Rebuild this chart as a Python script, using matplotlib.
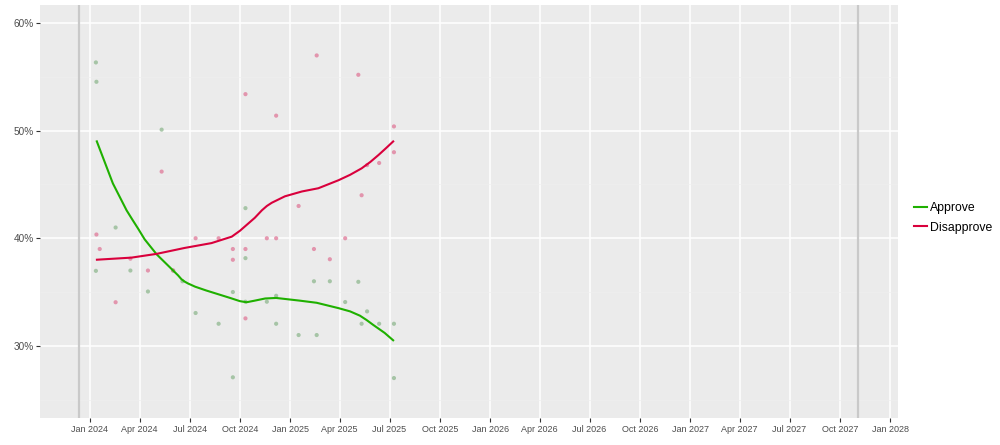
import matplotlib
matplotlib.use("Agg")
import matplotlib.pyplot as plt
import matplotlib.dates as mdates
from matplotlib.ticker import FuncFormatter, MultipleLocator
from matplotlib.lines import Line2D
import pandas as pd

# ---- data ----
approve_dates = ["2024-01-12", "2024-01-13", "2024-01-12", "2024-02-17", "2024-03-15",
                 "2024-04-16", "2024-05-11", "2024-06-01", "2024-06-18", "2024-07-12",
                 "2024-08-23", "2024-09-18", "2024-09-18", "2024-10-11", "2024-10-11",
                 "2024-10-11", "2024-11-19", "2024-12-06", "2024-12-06", "2025-01-16",
                 "2025-02-13", "2025-02-18", "2025-03-14", "2025-04-11", "2025-05-05",
                 "2025-05-11", "2025-05-21", "2025-06-12", "2025-07-09", "2025-07-09"]
approve_vals = [56.35, 54.55, 36.97, 41.0, 37.0,
                35.05, 50.1, 37.0, 36.0, 33.05,
                32.05, 35.0, 27.07, 42.8, 38.15,
                34.1, 34.1, 34.65, 32.05, 31.0,
                36.0, 31.0, 36.0, 34.07, 35.95,
                32.05, 33.2, 32.05, 32.05, 27.0]

disapprove_dates = ["2024-01-13", "2024-01-19", "2024-02-17", "2024-03-15", "2024-04-16",
                    "2024-05-11", "2024-06-01", "2024-07-12", "2024-08-23", "2024-09-18",
                    "2024-09-18", "2024-10-11", "2024-10-11", "2024-10-11", "2024-11-19",
                    "2024-12-06", "2024-12-06", "2025-01-16", "2025-02-13", "2025-02-18",
                    "2025-03-14", "2025-04-11", "2025-05-05", "2025-05-11", "2025-05-21",
                    "2025-06-12", "2025-07-09", "2025-07-09"]
disapprove_vals = [40.35, 39.0, 34.05, 38.1, 37.0,
                   46.2, 37.0, 40.0, 40.0, 39.0,
                   38.0, 53.4, 39.0, 32.55, 40.0,
                   51.4, 40.0, 43.0, 39.0, 57.0,
                   38.05, 40.0, 55.2, 44.0, 46.8,
                   47.0, 50.4, 48.0]

approve_trend_dates = ["2024-01-13", "2024-01-28", "2024-02-12", "2024-02-25", "2024-03-08",
                       "2024-03-19", "2024-03-29", "2024-04-10", "2024-05-02", "2024-05-30",
                       "2024-06-10", "2024-06-16", "2024-06-22", "2024-06-28", "2024-07-11",
                       "2024-07-31", "2024-08-22",
                       "2024-09-13", "2024-10-01", "2024-10-13", "2024-10-28", "2024-11-16",
                       "2024-12-06", "2025-01-18", "2025-02-18", "2025-03-30", "2025-04-20",
                       "2025-05-08", "2025-05-20", "2025-06-01", "2025-06-22", "2025-07-09"]
approve_trend = [49.1, 47.1, 45.1, 43.8, 42.6,
                 41.7, 40.9, 39.9, 38.5, 37.1,
                 36.55, 36.2, 35.97, 35.8, 35.5,
                 35.15, 34.8,
                 34.45, 34.15, 34.05, 34.2, 34.4,
                 34.45, 34.2, 34.0, 33.5, 33.2,
                 32.8, 32.4, 31.95, 31.2, 30.45]

disapprove_trend_dates = ["2024-01-12", "2024-03-17", "2024-05-02", "2024-06-22", "2024-08-10",
                          "2024-09-16", "2024-10-01", "2024-10-10", "2024-10-28", "2024-11-10",
                          "2024-11-19", "2024-11-28", "2024-12-12", "2024-12-22", "2025-01-22",
                          "2025-02-21", "2025-03-30", "2025-04-20", "2025-05-11", "2025-05-27",
                          "2025-06-11", "2025-06-25", "2025-07-09"]
disapprove_trend = [38.0, 38.2, 38.55, 39.1, 39.55,
                    40.15, 40.7, 41.1, 41.9, 42.6,
                    43.0, 43.3, 43.65, 43.9, 44.35,
                    44.65, 45.4, 45.9, 46.5, 47.1,
                    47.75, 48.4, 49.07]

term_markers = ["2023-12-12", "2027-11-03"]
series_labels = ["Approve", "Disapprove"]

# ---- style ----
GREEN = "#1fb000"
RED = "#d9003c"
PANEL = "#ebebeb"

fig = plt.figure(figsize=(10, 4.45), dpi=100)
ax = fig.add_axes([0.040, 0.061, 0.858, 0.928])
ax.set_facecolor(PANEL)
for s in ax.spines.values():
    s.set_visible(False)

to_dt = lambda lst: pd.to_datetime(lst)

# grid
ax.set_axisbelow(True)
ax.yaxis.set_major_locator(MultipleLocator(10))
ax.yaxis.set_minor_locator(MultipleLocator(5))
ax.xaxis.set_major_locator(mdates.MonthLocator(bymonth=[1, 4, 7, 10]))
ax.xaxis.set_major_formatter(mdates.DateFormatter("%b %Y"))
ax.grid(which="major", color="white", lw=1.1)
ax.grid(which="minor", axis="y", color="#efefef", lw=0.4)

for d in term_markers:
    ax.axvline(pd.Timestamp(d), color="#c9c9c9", lw=1.6, zorder=1.5)

ax.scatter(to_dt(approve_dates), approve_vals, s=9, color="#8fb88f", alpha=0.75,
           edgecolors="none", zorder=3)
ax.scatter(to_dt(disapprove_dates), disapprove_vals, s=9, color="#e07898", alpha=0.75,
           edgecolors="none", zorder=3)

ax.plot(to_dt(approve_trend_dates), approve_trend, color=GREEN, lw=1.5, zorder=4,
        solid_capstyle="butt", solid_joinstyle="round")
ax.plot(to_dt(disapprove_trend_dates), disapprove_trend, color=RED, lw=1.5, zorder=4,
        solid_capstyle="butt", solid_joinstyle="round")

ax.set_xlim(pd.Timestamp("2023-10-02"), pd.Timestamp("2028-01-15"))
ax.set_ylim(23.3, 61.7)
ax.yaxis.set_major_formatter(FuncFormatter(lambda v, p: f"{int(v)}%"))

ax.tick_params(axis="both", which="major", length=3, width=0.8, color="#333333",
               labelcolor="#4d4d4d", labelsize=6.5, pad=2)
ax.tick_params(axis="y", which="major", labelsize=7.2, pad=1.2)
ax.tick_params(axis="both", which="minor", length=0)
for lab in ax.get_xticklabels() + ax.get_yticklabels():
    lab.set_family("Liberation Sans")

handles = [Line2D([0], [0], color=GREEN, lw=1.5), Line2D([0], [0], color=RED, lw=1.5)]
leg = fig.legend(handles, series_labels, loc="center left", bbox_to_anchor=(0.903, 0.51),
                 frameon=False, handlelength=1.1, handletextpad=0.2, labelspacing=0.6,
                 prop={"family": "Liberation Sans", "size": 8.8})

fig.savefig("out.png", dpi=100, facecolor="white")
